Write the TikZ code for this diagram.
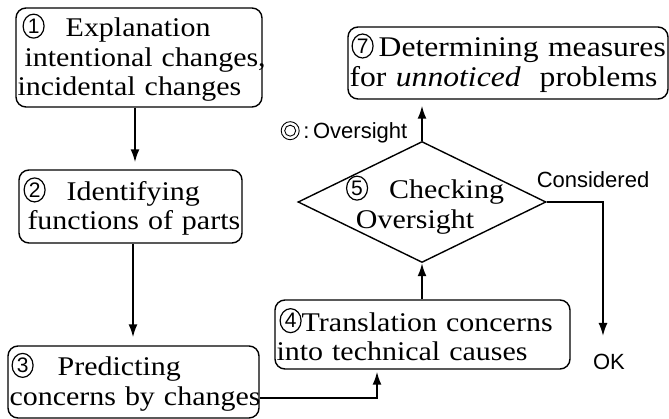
\documentclass[tikz,border=0pt]{standalone}
\usepackage{fontspec}
\setmainfont[FakeStretch=1.11]{Liberation Serif}
\newfontfamily\labfont{Liberation Sans}
\usetikzlibrary{shapes.geometric,arrows.meta,calc}
\tikzset{
  plain/.style={draw=none, fill=none, minimum width=0pt, minimum height=0pt,
    inner sep=0pt, outer sep=0pt, rounded corners=0pt, shape=rectangle, text width=},
  box/.style={draw, line width=1.4pt, rounded corners=10pt, align=left,
    inner xsep=1.5pt, inner ysep=0pt, font=\fontsize{27}{29.5}\selectfont},
  dia/.style={draw, diamond, line width=1.4pt, inner sep=0pt},
  diatext/.style={align=left, inner sep=0pt, font=\fontsize{27}{30}\selectfont},
  lab/.style={inner sep=0pt, font=\labfont\fontsize{22}{22}\selectfont},
  arr/.style={line width=1.8pt, -{Latex[length=13pt,width=9pt]}}
}
\newcommand\cnum[1]{\tikz[x=1pt,y=1pt,baseline=-10.5pt,plain]{\draw[line width=1.2pt, rounded corners=0pt] (0,0) ellipse [x radius=10.5pt, y radius=12pt];
  \node[plain, font=\labfont\fontsize{21}{21}\selectfont] (cd#1) at (0,0) {#1};}}
\newcommand\dblcirc{\tikz[x=1pt,y=1pt,baseline=-7.5pt]{\draw[line width=0.9pt, rounded corners=0pt] (0,0) circle [radius=9pt] (0,0) circle [radius=5.5pt];}}
\begin{document}
\begin{tikzpicture}[x=1pt,y=-1pt]
\useasboundingbox (0,0) rectangle (669,419);
\node[box, minimum height=99pt, text width=243pt] (b1) at (139,57.5)
  {\mbox{\hspace{5pt}\cnum{1}\hspace{21pt}Explanation}\\\mbox{\hspace{7pt}intentional changes,}\\\mbox{incidental changes}};
\node[box, minimum height=73pt, text width=220pt] (b2) at (130.5,206.5)
  {\mbox{\hspace{3pt}\cnum{2}\hspace{21pt}Identifying}\\\mbox{\hspace{7pt}functions of parts}};
\node[box, minimum height=72pt, text width=248pt] (b3) at (133.5,382)
  {\mbox{\hspace{2pt}\cnum{3}\hspace{24pt}Predicting}\\\mbox{concerns by changes}};
\node[box, minimum height=69pt, text width=292pt] (b4) at (422.5,334.5)
  {\mbox{\hspace{3pt}\cnum{4}Translation concerns}\\\mbox{into technical causes}};
\node[box, minimum height=72pt, text width=317pt, font=\fontsize{28.5}{30}\selectfont] (b7) at (508,63)
  {\mbox{\hspace{2pt}\cnum{7}\hspace{5pt}Determining measures}\\\mbox{for \textit{unnoticed}\ \ problems}};
\node[dia, minimum width=248pt, minimum height=121pt] (d5) at (422,202) {};
\node[diatext] (d5t) at (425,205) {\cnum{5}\hspace{21pt}Checking\\\hspace{10pt}Oversight};
\node[lab] (lov) at (344,132) {\dblcirc\,:\,Oversight};
\node[lab] (lcon) at (593,180) {Considered};
\node[lab] (lok) at (609,362) {OK};
\coordinate (x12) at (135,0);
\coordinate (x23) at (133,0);
\coordinate (x34) at (377,0);
\coordinate (yb3) at (0,398);
\coordinate (okend) at (603,336);
\draw[arr, shorten >=7pt] (b1.south -| x12) -- (b2.north -| x12);
\draw[arr, shorten >=8pt] (b2.south -| x23) -- (b3.north -| x23);
\draw[arr, shorten >=2pt] (b3.east |- yb3) -| (b4.south -| x34);
\draw[arr] (b4.north -| d5.south) -- (d5.south);
\draw[arr, shorten >=6pt] (d5.north) -- (b7.south -| d5.north);
\draw[arr] (d5.east) -| (okend);
\end{tikzpicture}
\end{document}
